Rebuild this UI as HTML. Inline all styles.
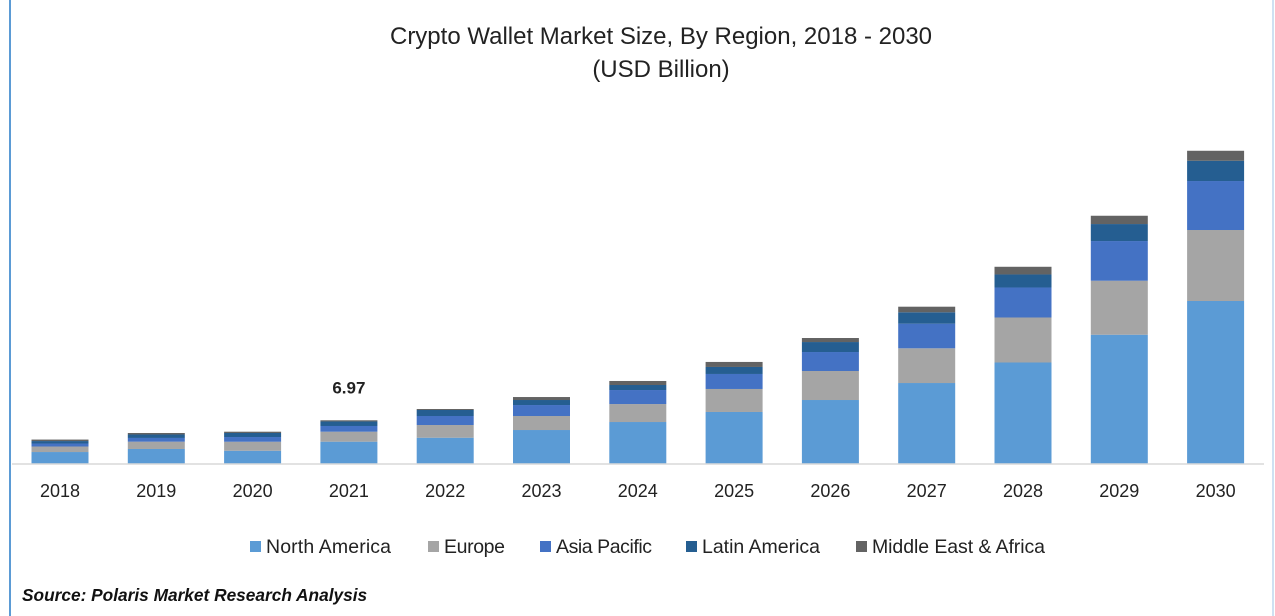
<!DOCTYPE html>
<html><head><meta charset="utf-8"><style>
body{margin:0;background:#fff;}
svg{display:block;font-family:"Liberation Sans",sans-serif;}
</style></head><body>
<svg width="1275" height="616" viewBox="0 0 1275 616">
<rect x="0" y="0" width="1275" height="616" fill="#fff"/>
<line x1="10" y1="0" x2="10" y2="616" stroke="#5b9bd5" stroke-width="2"/>
<line x1="1273" y1="0" x2="1273" y2="616" stroke="#9dc3e6" stroke-width="1"/>
<text x="661" y="44" text-anchor="middle" font-size="24" fill="#222">Crypto Wallet Market Size, By Region, 2018 - 2030</text>
<text x="661" y="77" text-anchor="middle" font-size="24" fill="#222">(USD Billion)</text>
<g id="bars"></g>
<line x1="12" y1="464" x2="1264" y2="464" stroke="#d9d9d9" stroke-width="1.5"/>
<g id="xlabels"></g>
<text id="anno" font-size="17" font-weight="bold" text-anchor="middle" fill="#222">6.97</text>
<g id="legend"></g>
<text x="22" y="601" font-size="17.3" font-weight="bold" font-style="italic" fill="#111">Source: Polaris  Market Research Analysis</text>
</svg>
<script>
const categories=["2018","2019","2020","2021","2022","2023","2024","2025","2026","2027","2028","2029","2030"];
const northAmerica=[1.85,2.34,2.06,3.52,4.16,5.40,6.69,8.31,10.24,12.98,16.29,20.77,26.21];
const europe=[0.89,1.18,1.45,1.61,2.05,2.26,2.90,3.71,4.68,5.60,7.26,8.71,11.45];
const asiaPacific=[0.48,0.60,0.76,0.92,1.45,1.77,2.26,2.42,3.06,3.97,4.84,6.40,7.90];
const latinAmerica=[0.40,0.56,0.65,0.73,0.97,0.81,0.81,1.13,1.61,1.84,2.10,2.74,3.27];
const middleEastAfrica=[0.24,0.24,0.21,0.19,0.16,0.48,0.65,0.81,0.65,0.90,1.24,1.34,1.61];
const seriesNames=["North America","Europe","Asia Pacific","Latin America","Middle East & Africa"];
const annotatedIndex=3;
const annotatedText="6.97";

const NS="http://www.w3.org/2000/svg";
const colors=["#5b9bd5","#a5a5a5","#4472c4","#255e91","#636363"];
const series=[northAmerica,europe,asiaPacific,latinAmerica,middleEastAfrica];
const baseY=463.5, pxPerUnit=6.2, x0=60, step=96.3, bw=57;
const xScale=i=>x0+i*step;
const yScale=v=>baseY-v*pxPerUnit;
const gb=document.getElementById('bars');
categories.forEach((c,i)=>{
  let acc=0;
  series.forEach((s,k)=>{
    const r=document.createElementNS(NS,'rect');
    const y1=yScale(acc+s[i]), y0=yScale(acc);
    r.setAttribute('x',xScale(i)-bw/2);r.setAttribute('y',y1);
    r.setAttribute('width',bw);r.setAttribute('height',y0-y1);
    r.setAttribute('fill',colors[k]);
    
    
    gb.appendChild(r);acc+=s[i];
  });
  const t=document.createElementNS(NS,'text');
  t.setAttribute('x',xScale(i));t.setAttribute('y',497);
  t.setAttribute('text-anchor','middle');t.setAttribute('font-size','18');t.setAttribute('fill','#222');
  t.textContent=c;
  
  
  document.getElementById('xlabels').appendChild(t);
});
let tot=series.reduce((a,s)=>a+s[annotatedIndex],0);
const an=document.getElementById('anno');
an.setAttribute('x',xScale(annotatedIndex));an.setAttribute('y',yScale(tot)-27);an.textContent=annotatedText;
const lg=document.getElementById('legend');
const lx=[250,428,540,686,856];
seriesNames.forEach((n,k)=>{
  const r=document.createElementNS(NS,'rect');
  r.setAttribute('x',lx[k]);r.setAttribute('y',541);r.setAttribute('width',11);r.setAttribute('height',11);r.setAttribute('fill',colors[k]);
  
  
  lg.appendChild(r);
  const t=document.createElementNS(NS,'text');
  t.setAttribute('x',lx[k]+16);t.setAttribute('y',553);t.setAttribute('font-size','19.5');t.setAttribute('fill','#222');
  t.setAttribute('textLength',[125,61,96,118,173][k]);
  t.textContent=n;
  
  
  lg.appendChild(t);
});
</script>
</body></html>
